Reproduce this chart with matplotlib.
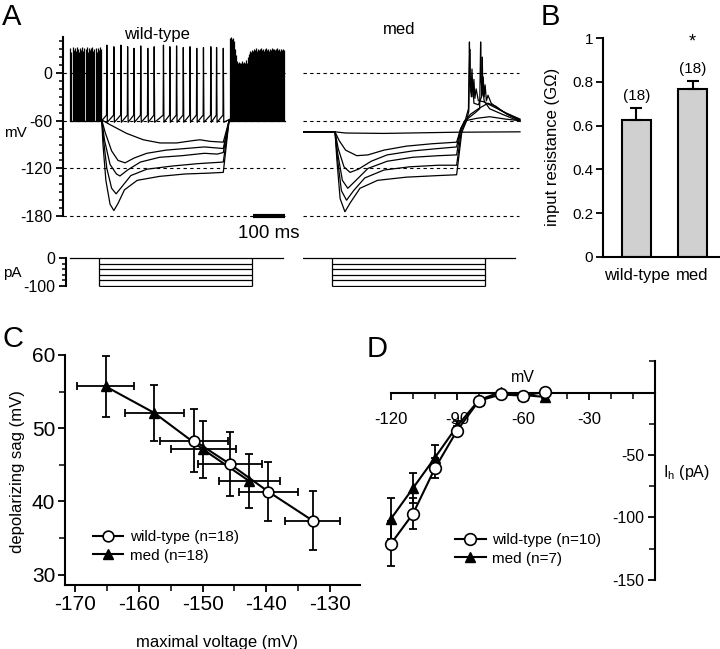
import matplotlib.pyplot as plt
from matplotlib.ticker import MultipleLocator, FixedLocator

plt.rcParams['font.family'] = ['Liberation Sans', 'DejaVu Sans']
plt.rcParams['mathtext.fontset'] = 'custom'
plt.rcParams['mathtext.rm'] = 'Liberation Sans'
plt.rcParams['axes.unicode_minus'] = False
plt.rcParams['font.size'] = 11

# ---------------- panel A: current clamp traces (time in ms, voltage in mV) ----------------
volt_ticks = [-180, -120, -60, 0]
dash_levels = [0, -60, -120, -180]

# wild-type: spikes before the step (all sweeps overlap)
wt_pre_spikes = [1, 4, 8, 11, 14, 18, 21, 25, 28, 32, 35, 38, 42, 45, 49, 52, 56, 59, 62, 66,
                 69, 73, 76, 80, 83, 86, 90, 93, 96]
wt_pre_peaks = [31, 27, 33, 29, 32, 28, 33, 30, 27, 32, 29, 33, 28, 31, 30, 33, 27, 32, 29, 31,
                33, 28, 30, 32, 27, 31, 29, 33, 30]
# 0 pA sweep keeps firing during the step
wt_step_spikes = [115, 137, 159, 180, 200, 221, 243, 263, 292, 312, 333, 354, 375, 396, 417,
                  440, 458, 479]
wt_step_peaks = [35, 33, 35, 33, 31, 34, 31, 33, 35, 33, 34, 32, 33, 31, 32, 33, 32, 31]
# rebound firing after the step
wt_post_spikes = [501, 504, 507, 510, 513, 516, 519, 522, 525, 528, 531, 534, 537, 540, 543,
                  546, 549, 552, 555, 558, 561, 564, 567, 570, 573, 576, 579, 582, 585, 588,
                  591, 594, 597, 600, 603, 606, 609, 612, 615, 618, 621, 624, 627, 630, 633,
                  636, 639, 642, 645, 648, 651, 654, 657, 660, 663, 666, 669]
wt_post_peaks = [44, 45, 43, 44, 40, 30, 22, 15, 12, 14, 12, 13, 15, 12, 14, 13, 16, 12, 20,
                 24, 26, 28, 27, 29, 28, 30, 29, 31, 28, 30, 29, 30, 31, 29, 30, 28, 30, 31,
                 29, 30, 28, 30, 29, 31, 30, 28, 30, 29, 30, 31, 29, 30, 28, 30, 29, 30, 29]
# hyperpolarising sweeps (t, V)
wt_hyp1 = [(99, -59), (125, -65), (177, -76), (229, -84), (281, -88), (333, -88), (385, -85),
           (406, -84), (438, -86), (479, -87), (497, -60)]
wt_hyp2 = [(99, -59), (110, -75), (130, -98), (150, -110), (172, -113), (200, -107),
           (240, -101), (300, -97), (360, -95), (420, -93), (479, -95), (497, -60)]
wt_hyp3 = [(99, -59), (108, -85), (125, -115), (145, -127), (156, -129.5), (180, -122),
           (220, -112), (280, -106), (350, -104), (420, -101), (460, -102), (479, -100),
           (497, -60)]
wt_hyp4 = [(99, -59), (105, -85), (115, -120), (130, -145), (144, -152), (160, -144),
           (190, -129), (240, -121), (320, -117), (400, -114), (479, -112), (497, -60)]
wt_hyp5 = [(99, -59), (103, -90), (112, -135), (125, -165), (137, -173), (150, -164),
           (170, -147), (210, -135), (280, -130), (360, -127), (430, -126), (479, -125),
           (497, -60)]
wt_rebound_base = [(497, -60), (672, -60)]
scale_bar_ms = [572, 672]

# med sweeps
med_flat = [(-3, -74), (97, -74), (130, -75.5), (250, -76), (400, -75), (477, -74.5),
            (675, -74)]
med_hyp1 = [(-3, -74), (97, -74), (110, -85), (130, -97), (165, -104), (200, -103),
            (250, -97), (320, -92), (400, -89), (477, -87), (490, -70), (505, -60),
            (540, -57), (580, -55), (630, -58), (675, -60)]
med_hyp2 = [(-3, -74), (97, -74), (107, -95), (125, -118), (144, -125), (170, -121),
            (210, -111), (260, -103), (340, -98), (420, -95), (477, -93), (488, -72),
            (500, -62), (520, -52), (545, -45), (575, -38), (600, -42), (635, -52),
            (675, -59)]
med_hyp3 = [(-3, -74), (97, -74), (105, -100), (120, -135), (137, -145), (160, -136),
            (200, -120), (260, -111), (340, -106), (420, -104), (477, -103), (490, -70),
            (505, -58), (514, -45), (517, 39), (519, -10), (522, -25), (525, 5), (528, -30),
            (531, -8), (534, -32), (538, -20), (545, -35), (560, -36), (590, -42),
            (630, -50), (675, -58)]
med_hyp4 = [(-3, -74), (97, -74), (104, -105), (117, -148), (133, -160), (155, -148),
            (190, -132), (250, -122), (330, -118), (420, -116), (477, -116), (492, -72),
            (510, -58), (535, -50), (549, -45), (552, 39), (554, -10), (557, -28),
            (560, -5), (563, -30), (566, -15), (570, -35), (575, -28), (585, -38),
            (610, -46), (645, -54), (675, -60)]
med_hyp5 = [(-3, -74), (97, -74), (103, -110), (113, -158), (128, -174.5), (145, -163),
            (175, -145), (230, -135), (320, -131), (420, -129), (477, -128), (493, -75),
            (508, -60), (515, -48), (518, 30), (520, -15), (523, -30), (527, -10),
            (531, -38), (545, -40), (555, -30), (557, 20), (559, -20), (563, -35),
            (580, -45), (620, -52), (675, -61)]

# injected current (pA)
step_levels = [-20, -40, -60, -80, -100]
wt_i_base = [0, 665]
wt_i_step = [92, 568]
med_i_base = [-3, 660]
med_i_step = [88, 566]

# ---------------- panel B: input resistance ----------------
groups = ['wild-type', 'med']
rin_mean = [0.625, 0.765]
rin_sem = [0.057, 0.04]
rin_n = [18, 18]
rin_sig = ['', '*']

# ---------------- panel C: sag vs maximal voltage ----------------
c_wt_x = [-151.3, -145.7, -139.7, -132.75]
c_wt_y = [48.3, 45.1, 41.35, 37.4]
c_wt_xerr = [5.35, 5.05, 4.65, 4.3]
c_wt_yerr = [4.3, 4.35, 4.0, 4.0]
c_med_x = [-165.2, -157.6, -149.9, -142.7]
c_med_y = [55.7, 52.1, 47.1, 42.8]
c_med_xerr = [4.5, 4.65, 5.1, 4.8]
c_med_yerr = [4.1, 3.8, 3.9, 3.75]

# ---------------- panel D: Ih I-V ----------------
d_v = [-120, -110, -100, -90, -80, -70, -60, -50]
d_wt_i = [-121, -97, -60.5, -30.5, -6.5, -1.5, -2.5, 0.5]
d_wt_err = [18, 12.5, 8, 4, 2, 1, 1, 1]
d_med_i = [-101, -76.5, -52, -27, -6, 0.5, -2, -3.5]
d_med_err = [16.5, 12, 10, 4, 2, 1, 1, 1]

W, H = 720, 649
fig = plt.figure(figsize=(W / 100, H / 100), dpi=100)


def px_axes(left, top, right, bottom):
    return fig.add_axes([left / W, 1 - bottom / H, (right - left) / W, (bottom - top) / H])


def ftext(x, y, s, **kw):
    fig.text(x / W, 1 - y / H, s, **kw)


def strip(ax, keep=()):
    for side in ['top', 'right', 'bottom', 'left']:
        if side not in keep:
            ax.spines[side].set_visible(False)
        else:
            ax.spines[side].set_linewidth(1.5)


TR = dict(color='black', lw=0.9)
DASH = dict(colors='black', linestyles=(0, (3, 3)), lw=0.8)

# ---- A, wild-type voltage ----
axw = px_axes(63, 35.6, 290.8, 220.1)
axw.set_xlim(-22, 690)
axw.set_ylim(-185, 47)
strip(axw, keep=('left',))
axw.spines['left'].set_bounds(-180, 45)
axw.set_xticks([])
axw.set_yticks(volt_ticks)
axw.yaxis.set_minor_locator(MultipleLocator(10))
axw.tick_params(axis='y', which='major', length=5, width=1.3, pad=3, labelsize=11.5)
axw.tick_params(axis='y', which='minor', length=3, width=1.1)
axw.hlines(dash_levels, -22, 672, **DASH)
axw.plot([0, 99], [-60, -60], **TR)
axw.vlines(wt_pre_spikes, -61, wt_pre_peaks, color='black', lw=0.9)
st, sv = [99], [-60]
for s, p in zip(wt_step_spikes, wt_step_peaks):
    st += [s - 1.0, s, s + 1.5]
    sv += [-53, p, -62]
st.append(500)
sv.append(-58)
axw.plot(st, sv, **TR)
for tr in [wt_hyp1, wt_hyp2, wt_hyp3, wt_hyp4, wt_hyp5]:
    t, v = zip(*tr)
    axw.plot(t, v, **TR)
t, v = zip(*wt_rebound_base)
axw.plot(t, v, **TR)
axw.vlines(wt_post_spikes, -61, wt_post_peaks, color='black', lw=0.9)
axw.plot(scale_bar_ms, [-180, -180], color='black', lw=3, solid_capstyle='butt')

# ---- A, med voltage ----
axm = px_axes(303, 35.6, 524.8, 220.1)
axm.set_xlim(-3, 690)
axm.set_ylim(-185, 47)
axm.axis('off')
axm.hlines(dash_levels, -3, 672, **DASH)
for tr in [med_flat, med_hyp1, med_hyp2, med_hyp3, med_hyp4, med_hyp5]:
    t, v = zip(*tr)
    axm.plot(t, v, **TR)

# ---- A, current steps ----
axi = px_axes(66, 256.6, 290.8, 287.4)
axi.set_xlim(-12.5, 690)
axi.set_ylim(-105, 5)
strip(axi, keep=('left',))
axi.spines['left'].set_bounds(-100, 0)
axi.set_xticks([])
axi.set_yticks([0, -100])
axi.yaxis.set_minor_locator(FixedLocator(step_levels[:-1]))
axi.tick_params(axis='y', which='major', length=5, width=1.3, pad=3, labelsize=11.5)
axi.tick_params(axis='y', which='minor', length=3, width=1.1)

axim = px_axes(303, 256.6, 524.8, 287.4)
axim.set_xlim(-3, 690)
axim.set_ylim(-105, 5)
axim.axis('off')

for ax, base, step in [(axi, wt_i_base, wt_i_step), (axim, med_i_base, med_i_step)]:
    ax.plot(base, [0, 0], color='black', lw=0.9)
    ax.hlines(step_levels, step[0], step[1], color='black', lw=0.9)
    ax.vlines(step, min(step_levels), 0, color='black', lw=0.9)

ftext(2, 25, 'A', fontsize=21, va='baseline', ha='left')
ftext(157, 35, 'wild-type', fontsize=12, ha='center', va='center')
ftext(399, 30, 'med', fontsize=12, ha='center', va='center')
ftext(15, 133, 'mV', fontsize=11, ha='center', va='center')
ftext(269, 233, '100 ms', fontsize=13.5, ha='center', va='center')
ftext(12, 273, 'pA', fontsize=11, ha='center', va='center')

# ---- B ----
axb = px_axes(603, 38, 720, 257)
xb = list(range(len(groups)))
axb.bar(xb, rin_mean, width=0.52, color='#d0d0d0', edgecolor='black', linewidth=1.5,
        zorder=2)
axb.errorbar(xb, rin_mean, yerr=[[0] * len(xb), rin_sem], fmt='none', ecolor='black',
             elinewidth=1.5, capsize=4, capthick=1.5, zorder=3)
for i in xb:
    top = rin_mean[i] + rin_sem[i]
    axb.text(i, top + 0.052, f'({rin_n[i]})', ha='center', va='center', fontsize=11)
    if rin_sig[i]:
        axb.text(i, top + 0.175, rin_sig[i], ha='center', va='center', fontsize=13)
axb.set_xlim(-0.598, 1.491)
axb.set_ylim(0, 1)
strip(axb, keep=('left', 'bottom'))
axb.set_xticks(xb)
axb.set_xticklabels(groups)
axb.set_yticks([0, 0.2, 0.4, 0.6, 0.8, 1])
axb.set_yticklabels(['0', '0.2', '0.4', '0.6', '0.8', '1'])
axb.tick_params(axis='x', length=0, pad=8, labelsize=12)
axb.tick_params(axis='y', length=5, width=1.3, pad=2, labelsize=11)
ftext(541, 25, 'B', fontsize=21, va='baseline', ha='left')
ftext(553, 147, 'input resistance (G\u03a9)', fontsize=12, rotation=90, ha='center',
      va='center')

# ---- C ----
axc = px_axes(65, 355, 360, 585)
axc.errorbar(c_med_x, c_med_y, xerr=c_med_xerr, yerr=c_med_yerr, fmt='none', ecolor='black',
             elinewidth=1.3, capsize=3, capthick=1.3, zorder=2)
axc.errorbar(c_wt_x, c_wt_y, xerr=c_wt_xerr, yerr=c_wt_yerr, fmt='none', ecolor='black',
             elinewidth=1.3, capsize=3, capthick=1.3, zorder=2)
axc.plot(c_med_x, c_med_y, '-^', color='black', ms=6.5, lw=1.5, zorder=3,
         label='med (n=18)')
axc.plot(c_wt_x, c_wt_y, '-o', color='black', mfc='white', mec='black', mew=1.2, ms=7.7,
         lw=1.5, zorder=4, label='wild-type (n=18)')
axc.set_xlim(-171.6, -125.3)
axc.set_ylim(28.6, 60)
strip(axc, keep=('left', 'bottom'))
axc.set_xticks([-170, -160, -150, -140, -130])
axc.set_yticks([30, 40, 50, 60])
axc.xaxis.set_minor_locator(MultipleLocator(5))
axc.yaxis.set_minor_locator(MultipleLocator(5))
axc.tick_params(which='major', length=5, width=1.3, labelsize=15, pad=2)
axc.tick_params(which='minor', length=4, width=1.1)
h, l = axc.get_legend_handles_labels()
axc.legend(h[::-1], l[::-1], loc='upper left', bbox_to_anchor=(93 / W, 1 - 530 / H),
           bbox_transform=fig.transFigure, frameon=False, borderpad=0, borderaxespad=0,
           handlelength=1.95, handletextpad=0.45, labelspacing=0.3, fontsize=11,
           numpoints=1)
ftext(2, 347, 'C', fontsize=21, va='baseline', ha='left')
ftext(18, 472, 'depolarizing sag (mV)', fontsize=12, rotation=90, ha='center', va='center')
ftext(217, 642, 'maximal voltage (mV)', fontsize=12, ha='center', va='center')

# ---- D ----
axd = px_axes(380, 360.7, 661.6, 583.7)
axd.errorbar(d_v, d_med_i, yerr=d_med_err, fmt='none', ecolor='black', elinewidth=1.3,
             capsize=3, capthick=1.3, zorder=2)
axd.errorbar(d_v, d_wt_i, yerr=d_wt_err, fmt='none', ecolor='black', elinewidth=1.3,
             capsize=3, capthick=1.3, zorder=2)
axd.plot(d_v, d_med_i, '-^', color='black', ms=7, lw=1.5, zorder=3, label='med (n=7)')
axd.plot(d_v, d_wt_i, '-o', color='black', mfc='white', mec='black', mew=1.2, ms=8.4,
         lw=1.5, zorder=4, label='wild-type (n=10)')
axd.set_xlim(-125, 3)
axd.set_ylim(-153, 25.5)
axd.spines['left'].set_position(('data', 0))
axd.spines['bottom'].set_position(('data', 0))
strip(axd, keep=('left', 'bottom'))
axd.spines['left'].set_bounds(-150, 25)
axd.spines['bottom'].set_bounds(-120, 0)
axd.set_xticks([-120, -90, -60, -30])
axd.xaxis.set_minor_locator(FixedLocator([-110, -100, -80, -70, -50, -40, -20, -10]))
axd.set_yticks([-150, -100, -50])
axd.yaxis.set_minor_locator(FixedLocator([-125, -75, -25, 25]))
axd.tick_params(which='major', length=5, width=1.3)
axd.tick_params(which='minor', length=4, width=1.1)
axd.tick_params(axis='x', labelsize=12, pad=9)
axd.tick_params(axis='y', labelsize=11.5, pad=3)
h, l = axd.get_legend_handles_labels()
axd.legend(h[::-1], l[::-1], loc='upper left', bbox_to_anchor=(455 / W, 1 - 533 / H),
           bbox_transform=fig.transFigure, frameon=False, borderpad=0, borderaxespad=0,
           handlelength=2.0, handletextpad=0.4, labelspacing=0.3, fontsize=11,
           numpoints=1)
ftext(367, 357, 'D', fontsize=21, va='baseline', ha='left')
ftext(523, 377, 'mV', fontsize=11.5, ha='center', va='center')
ftext(686, 473, r'I$_\mathrm{h}$ (pA)', fontsize=11.5, ha='center', va='center')

fig.savefig('out.png', dpi=100)
